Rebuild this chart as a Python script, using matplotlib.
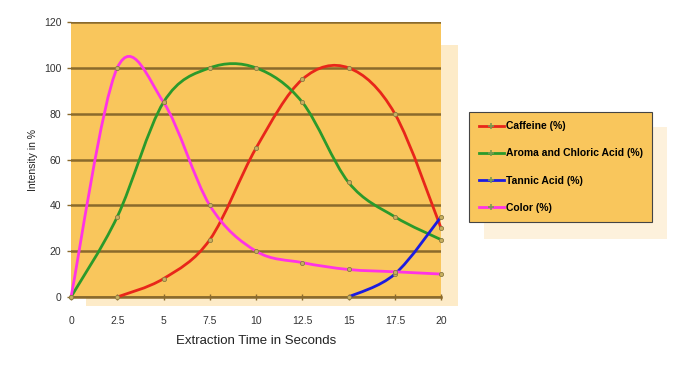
import numpy as np
import matplotlib
matplotlib.use('Agg')
import matplotlib.pyplot as plt
from matplotlib.path import Path
from matplotlib.patches import PathPatch, Rectangle
from matplotlib.lines import Line2D

# Data
time = [0, 2.5, 5, 7.5, 10, 12.5, 15, 17.5, 20]
caffeine_t = [2.5, 5, 7.5, 10, 12.5, 15, 17.5, 20]
caffeine = [0, 8, 25, 65, 95, 100, 80, 30]
aroma = [0, 35, 85, 100, 100, 85, 50, 35, 25]
tannic_t = [15, 17.5, 20]
tannic = [0, 10, 35]
color = [0, 100, 85, 40, 20, 15, 12, 11, 10]

series = [
    ('Caffeine (%)', caffeine_t, caffeine, '#e8261a'),
    ('Aroma and Chloric Acid (%)', time, aroma, '#2b9a2b'),
    ('Tannic Acid (%)', tannic_t, tannic, '#1c1ce0'),
    ('Color (%)', time, color, '#ff33e6'),
]

bg = '#f9c65c'
grid_col = '#8a6a2c'
plt.rcParams['font.family'] = ['Liberation Sans', 'DejaVu Sans']


def smooth_path(xs, ys):
    # Excel-style smoothed line: cubic Bezier segments through the points
    pts = np.column_stack([xs, ys]).astype(float)
    n = len(pts)
    verts = [pts[0]]
    codes = [Path.MOVETO]
    for i in range(n - 1):
        p0 = pts[i - 1] if i > 0 else pts[i]
        p1, p2 = pts[i], pts[i + 1]
        p3 = pts[i + 2] if i + 2 < n else pts[i + 1]
        verts += [p1 + (p2 - p0) / 6, p2 - (p3 - p1) / 6, p2]
        codes += [Path.CURVE4] * 3
    return Path(verts, codes)


fig = plt.figure(figsize=(6.86, 3.68), dpi=100)
ax = fig.add_axes([0.1035, 0.193, 0.5395, 0.747])

# Soft shadows behind plot area and legend
fig.patches.append(Rectangle((0.125, 0.168), 0.542, 0.71, transform=fig.transFigure,
                             facecolor='#fdebc8', edgecolor='none', zorder=-2))
fig.patches.append(Rectangle((0.705, 0.35), 0.268, 0.305, transform=fig.transFigure,
                             facecolor='#fdf1dc', edgecolor='none', zorder=-2))

ax.set_facecolor(bg)
ax.set_xlim(0, 20)
ax.set_ylim(0, 120)
ax.set_xticks(time)
ax.set_xticklabels(['0', '2.5', '5', '7.5', '10', '12.5', '15', '17.5', '20'])
ax.set_yticks([0, 20, 40, 60, 80, 100, 120])
ax.yaxis.grid(True, color=grid_col, linewidth=1.8)
ax.set_axisbelow(True)
for s in ['top', 'right', 'left']:
    ax.spines[s].set_visible(False)
ax.spines['bottom'].set_color(grid_col)
ax.spines['bottom'].set_linewidth(1.8)
ax.tick_params(axis='both', colors='#333333', labelsize=7.5, length=3, width=1)
ax.tick_params(axis='y', color=grid_col, pad=4)
ax.tick_params(axis='x', color=grid_col, direction='inout', length=5, pad=11)

handles = []
for label, xs, ys, c in series:
    ax.add_patch(PathPatch(smooth_path(xs, ys), facecolor='none', edgecolor=c,
                           linewidth=2.0, zorder=3, clip_on=False))
    ax.plot(xs, ys, 'o', markersize=3, markerfacecolor='#c8b060',
            markeredgecolor='#8a7a40', markeredgewidth=0.6, zorder=4, clip_on=False)
    handles.append(Line2D([], [], color=c, linewidth=2.0, marker='+', markersize=4,
                          markeredgecolor='#7a9a50', markeredgewidth=1.2))

ax.set_xlabel('Extraction Time in Seconds', fontsize=9.5, color='#222222', labelpad=7)
ax.set_ylabel('Intensity in %', fontsize=7.5, color='#222222', labelpad=4)

leg = fig.legend(handles, [s[0] for s in series], loc='upper left',
                 bbox_to_anchor=(0.684, 0.696), frameon=True, fancybox=False,
                 prop={'size': 7.5, 'weight': 'bold'}, handlelength=2.4,
                 handletextpad=0.2, labelspacing=1.65, borderpad=0.9,
                 borderaxespad=0)
leg.get_frame().set_facecolor(bg)
leg.get_frame().set_edgecolor('#444444')
leg.get_frame().set_linewidth(0.8)
leg.get_frame().set_alpha(1)

fig.savefig('out.png', dpi=100)
